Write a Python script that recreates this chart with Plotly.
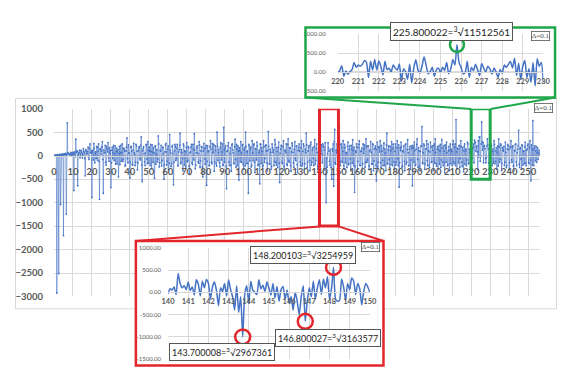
import plotly.graph_objects as go

# page is 572x380; the browser adds an 8px body margin, so the figure itself is 556x364
PAGE_W, PAGE_H = 572, 380
OFF = 8
W, H = PAGE_W - 2 * OFF, PAGE_H - 2 * OFF

# ---------------- data ----------------
# main series at x = 0, 0.5, 1.0 ... 256 (values read/estimated from picture)
main_y = [
    0, 5, 10, -2925, 15, -2510, 20, -1040, 30, 10, -1700, 40, 20, -1245, 700, 50, 30, 20, 60, 10,
    70, -740, 40, 350, 90, -640, 60, 120, 30, 80, -50, 150, 60, -430, 100, 40, 180, -80, 250, 60,
    -890, 120, 260, -150, 80, 200, -100, 250, -930, 150, 100, 300, -800, 60, 220, -200, 150, 280, -120, 50,
    -680, 120, -60, 220, 40, -180, 160, 80, -450, 200, 60, -120, 250, -80, 140, -220, 100, 380, -150, 60,
    -480, 180, 90, -200, 260, 30, -140, 210, -300, 110, 190, -90, 400, -550, 150, 40, -210, 230, -70, 300,
    -160, 100, 240, -280, 70, 170, -480, 210, 30, -130, 420, -240, 120, 220, -100, 180, -500, 80, 260, -200,
    140, -300, 450, 60, -170, 220, -620, 100, 190, -60, 240, -210, 130, 480, -140, 70, -320, 210, 100, -240,
    280, -100, 170, -400, 80, 240, -190, 140, 470, -280, 60, 210, -130, 300, -250, 100, 180, -450, 260, -70,
    170, -630, 210, 100, -210, 320, -140, 260, 70, -330, 210, -170, 500, -100, 140, -240, 280, 80, -210, 600,
    -140, 210, -700, 100, 280, -210, 170, -330, 250, 60, -170, 350, -250, 140, 210, -520, 100, 300, -140, 240,
    -290, 170, 500, -170, 100, -800, 210, 140, -240, 320, -100, 250, -360, 140, 290, -210, 70, -600, 240, 170,
    -240, 320, -140, 210, 100, -320, 520, -170, 140, -290, 250, 70, -210, 340, -140, 170, -250, 290, -570, 140,
    210, -170, 320, -290, 100, 250, -210, 360, -140, 170, -330, 270, 70, -250, 300, -100, 210, -360, 170, 100,
    -210, 320, -170, 250, -290, 140, 480, -250, 100, 210, -320, 290, -140, 170, -210, 340, -100, 250, -290, 140,
    -30, 420, 230, -150, 200, -300, 280, -1000, -250, 280, 100, -200, -250, -500, 100, -650, 560, -180, 60, -280,
    100, 620, -210, 250, -140, 320, -290, 170, 70, -250, 290, -170, 210, -320, 140, 340, -210, -780, 100, 250,
    -290, 170, 320, -210, 100, -330, 250, 140, -250, 360, -140, 210, -290, 100, 300, -170, 250, -320, 140, 210,
    -535, 290, -140, 170, 320, -250, 100, -210, 270, 140, -320, 480, -170, 210, -250, 100, 300, -210, 170, -290,
    250, -140, 320, -210, -670, 170, 290, -250, 100, 210, -320, 250, -140, 340, -210, 140, -290, 210, -640, 170,
    290, -210, 140, 360, -250, 100, -320, 210, 620, -170, 250, -290, 140, 320, -210, 100, -250, 290, -140, 210,
    -320, 250, 360, -170, 140, -290, 210, 100, -250, 340, -140, 210, -360, 170, 290, -210, 100, -320, 250, 140,
    -210, 320, -170, 250, 770, -290, 140, 210, -250, 320, -140, 170, -340, 250, 100, -210, 290, -170, 140, -290,
    -20, -60, 180, -150, 290, 100, 210, -300, -30, 400, -20, 720, 120, -150, 220, -60, -40, 360, 150, -380,
    -280, 250, -210, 140, 320, -170, 100, -290, 210, 360, -140, 250, -320, 170, 100, -210, 290, -250, 140, 210,
    -290, 170, 320, -140, 210, -320, 100, 250, -210, 140, 540, -250, 170, -290, 210, 100, -170, 290, -210, 140,
    250, -170, 320, -535, 140, 745, -210, 210, 100, -140, 170, 70, 30,
]
# main series at x = 0.25, 0.75, ... 255.75 (values read/)
main_y_mid = [
    5, 0, 10, 20, 5, 15, 30, 10, 20, 40, 25, 30, 50, 20, 60, 40, 30, 70, 20, 50,
    30, 80, -20, 60, 100, 20, 70, -40, 110, 50, 20, 90, -60, 130, 40, 80, -30, 150, 60, 100,
    70, -90, 160, 40, -60, 180, 90, -120, 140, 30, 190, -80, 120, 60, -140, 200, 80, -50, 170, 110,
    -150, 180, 60, -100, 210, 90, -170, 130, 40, -190, 220, 70, -120, 160, 100, -200, 180, -60, 230, 50,
    -130, 200, -180, 120, 60, -210, 240, 90, -150, 170, -60, 220, -200, 100, 190, -130, 60, 240, -170, 110,
    180, -210, 90, 230, -140, 60, 200, -180, 130, -70, 250, -150, 100, -220, 170, 40, -190, 230, 80, -120,
    210, -160, 110, -230, 190, 50, -140, 240, -100, 160, -210, 80, 220, -170, 130, -60, 250, -200, 90, 170,
    -130, 200, -220, 60, 180, -150, 240, -90, 120, -200, 170, 50, -160, 230, -110, 190, -240, 100, 150, -180,
    220, -120, 80, -210, 190, 140, -170, 60, 240, -130, 110, -220, 200, 70, -150, 180, -90, 250, -190, 120,
    160, -230, 90, 210, -140, 50, -200, 230, 120, -160, 190, -80, 240, -210, 100, 170, -130, 60, 220, -180,
    130, -220, 200, 80, -160, 240, -110, 180, -200, 60, 230, -140, 150, -90, 210, -190, 120, 250, -170, 90,
    -210, 190, -60, 230, -150, 110, 200, -180, 70, -230, 170, 130, -120, 240, -200, 90, 180, -160, 50, 220,
    -140, 190, -230, 120, 60, -180, 240, -100, 160, -210, 80, 220, -150, 130, -60, 200, -190, 110, 250, -130,
    170, -220, 90, 210, -170, 60, 230, -140, 180, -100, 240, -200, 120, -60, 190, -180, 150, 70, -230, 200,
    80, 100, 40, 250, 180, 120, -400, -50, 50, 160, -120, 130, -400, 150, 250, 300, -150, 120, 250, 200,
    -180, 230, -120, 170, 90, -210, 240, -150, 60, 200, -190, 130, -70, 220, -160, 110, 180, -230, 70, 190,
    -120, 240, -200, 90, 160, -170, 50, 230, -140, 190, -90, 210, -220, 120, 70, -180, 240, -110, 160, -200,
    130, -240, 190, 80, -150, 220, -100, 160, -210, 60, 230, -170, 120, -80, 200, -190, 140, 250, -130, 90,
    -200, 170, -60, 230, -150, 110, 190, -220, 80, -120, 240, -180, 130, 60, -210, 200, -90, 160, 220, -140,
    110, -190, 240, -80, 170, -230, 90, 200, -150, 60, 220, -170, 140, -100, 250, -200, 80, 180, -130, 120,
    210, -160, 70, -220, 190, 130, -180, 240, -90, 160, -210, 100, 230, -140, 60, -190, 200, 120, -170, 90,
    240, -130, 180, -210, 80, 160, -150, 220, -60, 190, -230, 110, 200, -180, 140, -90, 250, -160, 70, 210,
    20, 150, 250, 330, 280, 180, 80, 320, 400, -120, 250, 300, 280, 200, 150, -150, 200, 230, -150, 350,
    -190, 210, 90, -160, 240, -120, 170, 60, -220, 190, -80, 230, -170, 120, 200, -140, 70, -210, 240, 130,
    -150, 200, -90, 180, -220, 110, 240, -130, 60, 210, -180, 150, -70, 230, -200, 90, 190, -160, 120, 220,
    -140, 180, -90, 230, -200, 120, 160, -110, 200, 60, -80, 120,
]

main_vals = []
for i, v in enumerate(main_y):
    main_vals.append(v)
    if i < len(main_y_mid):
        main_vals.append(main_y_mid[i])
main_x = [i * 0.25 for i in range(len(main_vals))]

# green inset: 220 .. 230 step 0.1
green_y = [
    -20, 30, 160, -120, 20, -60, 0, 60, 250, 120,
    180, 150, 200, 300, 250, -150, 280, 50, 330, 50,
    290, 150, -80, 280, 60, 100, 0, 180, 100, 50,
    210, -250, 80, 10, -200, 200, -300, 100, 320, 60,
    -30, 150, 400, 180, -50, 10, 120, -120, 60, 100,
    -20, 120, 40, 250, -50, 80, 330, 180, 720, 250,
    120, -50, -20, 280, -150, 120, 30, 200, 60, -100,
    220, 100, 0, 150, 80, -60, 100, 0, -150, 60,
    -40, 180, 120, 200, 280, 100, 360, -100, 230, -200,
    150, 300, -150, 80, -280, 250, -380, 350, 150, 250,
    -280,
]
green_x = [round(220 + i * 0.1, 1) for i in range(len(green_y))]

# red inset: 140 .. 150 step 0.1
red_y = [
    -30, 80, 50, 120, -50, 420, 200, 100, 150, 60,
    230, 40, 120, -60, 280, 180, -80, 250, 100, 290,
    200, -150, 120, 230, 40, -300, 100, 20, 200, -80,
    280, 60, -100, -400, 150, -450, -100, -1000, -50, 150,
    -250, 250, 50, 0, -50, 280, 80, 160, 20, 230,
    100, -60, 200, -120, 130, -200, 60, 130, -150, 50,
    -250, -100, -400, 0, -200, -500, -100, 150, -650, -200,
    100, -100, 250, -150, 100, 280, -50, 300, 100, 350,
    -150, 80, 560, -150, -200, -180, 300, 120, -180, 200,
    60, 320, 250, -50, 200, 80, -280, 30, 200, 120,
    0,
]
red_x = [round(140 + i * 0.1, 1) for i in range(len(red_y))]

green_peak_x = [225.8]
green_peak_y = [720]
red_peak_x = [148.2, 146.8, 143.7]
red_peak_y = [560, -650, -1000]

main_xticks = list(range(0, 251, 10))
main_yticks = [1000, 500, 0, -500, -1000, -1500, -2000, -2500, -3000]
green_xticks = list(range(220, 231))
green_yticks = [1000, -500, 0, 500]
red_xticks = list(range(140, 151))
red_yticks = [1000, 500, 0, -500, -1000, -1500]

green_label = "225.800022=<sup>3</sup>√11512561"
red_labels = [
    "148.200103=<sup>3</sup>√3254959",
    "146.800027=<sup>3</sup>√3163577",
    "143.700008=<sup>3</sup>√2967361",
]

# ---------------- helpers (page pixel -> paper fraction) ----------------
def px(x):
    return (x - OFF) / W

def py(y):
    return (H - (y - OFF)) / H

BLUE = "#4472C4"
RED = "#E2262B"
GREEN = "#1FA64A"
GRID = "#D9D9D9"
TICK = "#595959"

fig = go.Figure()

# main series
fig.add_trace(go.Scatter(
    x=main_x, y=main_vals, mode="lines+markers", xaxis="x", yaxis="y",
    line=dict(color="rgba(68,114,196,0.75)", width=0.8),
    marker=dict(color=BLUE, size=1.8),
    hoverinfo="skip", showlegend=False,
))
# green inset
fig.add_trace(go.Scatter(
    x=green_x, y=green_y, mode="lines", xaxis="x2", yaxis="y2",
    line=dict(color=BLUE, width=1.5, shape="spline", smoothing=0.6),
    hoverinfo="skip", showlegend=False,
))
fig.add_trace(go.Scatter(
    x=green_peak_x, y=green_peak_y, mode="markers", xaxis="x2", yaxis="y2",
    marker=dict(symbol="circle-open", size=14, color=GREEN, line=dict(width=2.5)),
    cliponaxis=False, hoverinfo="skip", showlegend=False,
))
# white backing for red inset frame
fig.add_trace(go.Scatter(x=[None], y=[None], xaxis="x3", yaxis="y3",
                         hoverinfo="skip", showlegend=False))
# red inset
fig.add_trace(go.Scatter(
    x=red_x, y=red_y, mode="lines", xaxis="x4", yaxis="y4",
    line=dict(color=BLUE, width=1.5, shape="spline", smoothing=0.6),
    hoverinfo="skip", showlegend=False,
))
fig.add_trace(go.Scatter(
    x=red_peak_x, y=red_peak_y, mode="markers", xaxis="x4", yaxis="y4",
    marker=dict(symbol="circle-open", size=15, color=RED, line=dict(width=2.5)),
    cliponaxis=False, hoverinfo="skip", showlegend=False,
))

tick_font_main = dict(family="Lato", size=9.5, color=TICK, weight="bold")
tick_font_small = dict(family="Lato", size=7.5, color=TICK, weight="bold")
tick_font_ysmall = dict(family="Lato", size=6, color=TICK)

main_zero = py(105.7 + 1000 * 0.0484)
green_zero = py(29 + 1000 * (58 / 1500))
red_zero = py(249 + 1000 * (115 / 2500))

layout = dict(
    width=W, height=H, margin=dict(l=0, r=0, t=0, b=0),
    paper_bgcolor="white", plot_bgcolor="white",
    showlegend=False,
    xaxis=dict(domain=[px(48), px(547)], range=[0, 256.5], anchor="free", position=main_zero,
               tickvals=main_xticks, tickfont=tick_font_main, ticks="", ticklabelstandoff=7,
               tickangle=0, showgrid=True, gridcolor=GRID, gridwidth=1, zeroline=False,
               showline=True, linecolor=GRID, linewidth=1),
    yaxis=dict(domain=[py(299.3), py(105.7)], range=[-3000, 1000], anchor="x",
               tickvals=main_yticks, tickfont=tick_font_main, ticks="", ticklabelstandoff=10,
               showgrid=True, gridcolor=GRID, gridwidth=1, zeroline=False, showline=False),
    xaxis2=dict(domain=[px(339), px(550)], range=[220, 230], anchor="free", position=green_zero,
                tickvals=green_xticks, tickfont=tick_font_small, ticks="", ticklabelstandoff=2,
                tickangle=0, showgrid=True, gridcolor=GRID, zeroline=False, showline=True, linecolor=GRID),
    yaxis2=dict(domain=[py(87), py(29)], range=[-500, 1000], anchor="x2",
                tickvals=green_yticks, ticktext=[f"{v:.2f}" for v in green_yticks],
                tickfont=tick_font_ysmall, ticks="", ticklabelstandoff=11,
                showgrid=True, gridcolor=GRID, zeroline=False),
    xaxis3=dict(domain=[px(133), px(385)], range=[0, 1], anchor="y3", visible=False, showgrid=False),
    yaxis3=dict(domain=[py(370), py(243)], range=[0, 1], anchor="x3", visible=False, showgrid=False),
    xaxis4=dict(domain=[px(165), px(372)], range=[140, 150], anchor="free", position=red_zero,
                tickvals=red_xticks, tickfont=tick_font_small, ticks="", ticklabelstandoff=2,
                tickangle=0, showgrid=True, gridcolor=GRID, zeroline=False, showline=True, linecolor=GRID),
    yaxis4=dict(domain=[py(364), py(249)], range=[-1500, 1000], anchor="x4",
                tickvals=red_yticks, ticktext=[f"{v:.2f}" for v in red_yticks],
                tickfont=tick_font_ysmall, ticks="", ticklabelstandoff=6,
                showgrid=True, gridcolor=GRID, zeroline=False),
)
fig.update_layout(**layout)

shapes = []
# main panel border
shapes.append(dict(type="rect", xref="paper", yref="paper", x0=px(8.5), x1=px(563.5), y0=py(312), y1=py(95),
                   line=dict(color=GRID, width=1), layer="below"))
# green inset frame + connectors
shapes.append(dict(type="rect", xref="paper", yref="paper", x0=px(306), x1=px(562), y0=py(94), y1=py(22),
                   line=dict(color=GREEN, width=2.5), layer="above"))
shapes.append(dict(type="line", xref="paper", yref="paper", x0=px(306), y0=py(94), x1=px(476), y1=py(106),
                   line=dict(color=GREEN, width=2), layer="above"))
shapes.append(dict(type="line", xref="paper", yref="paper", x0=px(562), y0=py(94), x1=px(496), y1=py(106),
                   line=dict(color=GREEN, width=2), layer="above"))
# green highlight on main chart
shapes.append(dict(type="rect", xref="x", yref="y", x0=green_x[0], x1=green_x[-1], y0=-500, y1=1000,
                   line=dict(color=GREEN, width=3), layer="above"))
# red inset frame + connectors
shapes.append(dict(type="rect", xref="paper", yref="paper", x0=px(132), x1=px(386), y0=py(370.5), y1=py(242),
                   line=dict(color=RED, width=2.5), layer="above"))
shapes.append(dict(type="line", xref="paper", yref="paper", x0=px(132), y0=py(242), x1=px(320.5), y1=py(227),
                   line=dict(color=RED, width=2), layer="above"))
shapes.append(dict(type="line", xref="paper", yref="paper", x0=px(386), y0=py(242), x1=px(340), y1=py(227),
                   line=dict(color=RED, width=2), layer="above"))
# red highlight on main chart
shapes.append(dict(type="rect", xref="x", yref="y", x0=red_x[0], x1=red_x[-1], y0=-1500, y1=1000,
                   line=dict(color=RED, width=3), layer="above"))
fig.update_layout(shapes=shapes)

green_font = dict(family="Lato", size=10, color="#222222")
red_font = dict(family="Lato", size=9, color="#222222")
delta_font = dict(family="Liberation Serif", size=7, color="#444444")
box = dict(xref="paper", yref="paper", showarrow=False, bgcolor="white", xanchor="center", yanchor="middle",
           bordercolor="#555555", borderwidth=1, borderpad=2)
dbox = dict(xref="paper", yref="paper", showarrow=False, font=delta_font, bgcolor="white",
            xanchor="center", yanchor="middle", bordercolor="#555555", borderwidth=0.8, borderpad=0)
annotations = [
    dict(text=green_label, x=px(456), y=py(26.5), font=green_font, **box),
    dict(text=red_labels[0], x=px(303), y=py(257), font=red_font, **box),
    dict(text=red_labels[1], x=px(329), y=py(342), font=red_font, **box),
    dict(text=red_labels[2], x=px(220), y=py(357), font=red_font, **box),
    dict(text="Δ=0.1", x=px(550), y=py(105), **dbox),
    dict(text="Δ=0.1", x=px(547.5), y=py(30.5), **dbox),
    dict(text="Δ=0.1", x=px(372.5), y=py(248.5), **dbox),
]
fig.update_layout(annotations=annotations)

fig.write_html("out.html", config={"displayModeBar": False})
